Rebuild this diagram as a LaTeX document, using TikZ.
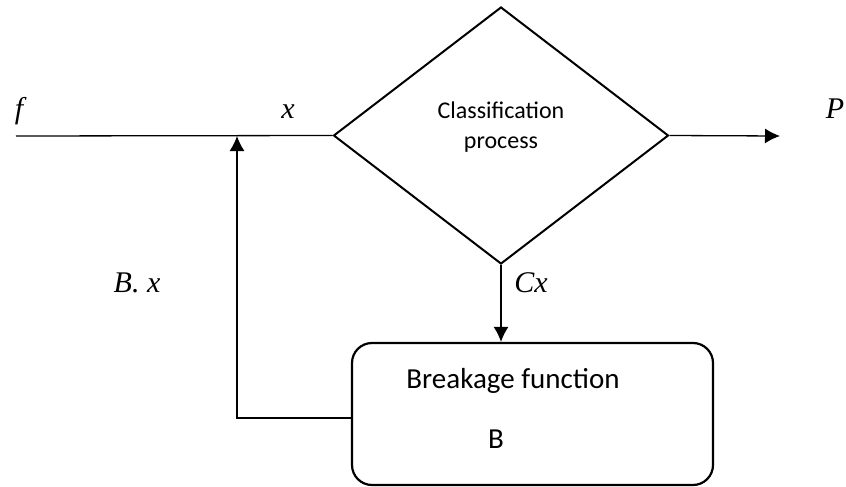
\documentclass[tikz,border=0pt]{standalone}
\usepackage{fontspec}
\setmainfont{Liberation Serif}
\newfontfamily\calfont{Carlito}
\usetikzlibrary{shapes.geometric,arrows.meta}
\tikzset{
  decision/.style={draw, diamond, line width=2pt, minimum width=335pt, minimum height=257pt, inner sep=0pt},
  funcbox/.style={draw, rectangle, rounded corners=20pt, line width=2.2pt, minimum width=361pt, minimum height=142pt, inner sep=0pt},
  lbl/.style={font=\fontsize{30}{34}\selectfont\itshape, inner sep=0pt, anchor=base},
  txt/.style={font=\calfont\fontsize{24}{30}\selectfont, align=center, inner sep=0pt},
  boxtxt/.style={font=\calfont\fontsize{29}{34}\selectfont, inner sep=0pt, anchor=base},
}
\begin{document}
\begin{tikzpicture}[x=1pt, y=-1pt, >={Latex[length=15pt,width=15pt]}, line width=1.3pt]
        \useasboundingbox (0,0) rectangle (846,487);
        % shapes
        \node[decision] (cls) at (501,135.5) {};
        \node[txt] (clstxt) at (501,127) {Classification\\process};
        \node[funcbox] (brk) at (532.5,414) {};
        \node[boxtxt] (brktxt) at (513,388) {Breakage function};
        \node[boxtxt] (btxt) at (496,448) {B};
        \coordinate (in) at (16,136);
        \coordinate (join) at (237,136);
        \coordinate (out) at (780,136);
        \coordinate (turn) at (237,418);
        % connectors
        \draw (in) -- (cls.west);
        \draw[->] (cls.east) -- (out);
        \draw[->] (cls.south) -- (cls.south |- brk.north);
        \draw[->] (brk.west |- turn) -- (turn) -- (join);
        % labels
        \node[lbl] (flbl) at (19,118) {f};
        \node[lbl] (xlbl) at (288,118) {x};
        \node[lbl] (plbl) at (835,118) {P};
        \node[lbl] (bxlbl) at (137,292) {B. x};
        \node[lbl] (cxlbl) at (531,292) {Cx};
\end{tikzpicture}
\end{document}
